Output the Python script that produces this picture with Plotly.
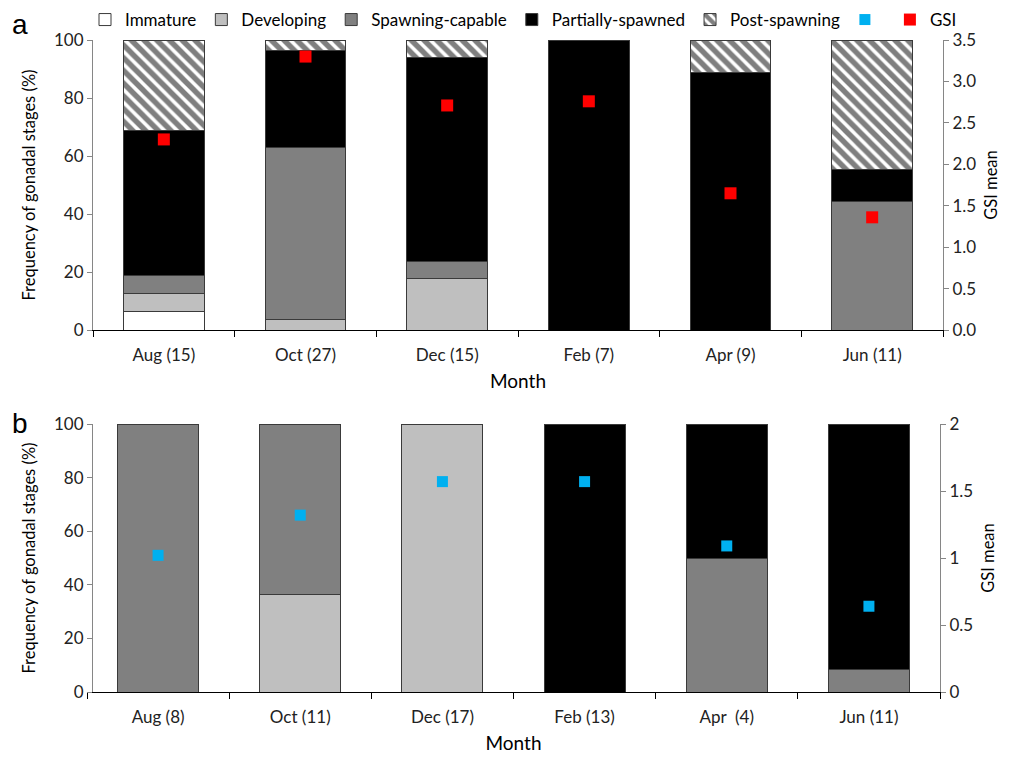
import plotly.graph_objects as go

# ---- data ----
months_a = ["Aug (15)", "Oct (27)", "Dec (15)", "Feb (7)", "Apr (9)", "Jun (11)"]
immature_a = [6.25, 0, 0, 0, 0, 0]
developing_a = [6.25, 3.7, 17.6, 0, 0, 0]
spawning_a = [6.25, 59.3, 5.9, 0, 0, 44.4]
partial_a = [50.0, 33.3, 70.6, 100, 88.9, 11.1]
post_a = [31.25, 3.7, 5.9, 0, 11.1, 44.5]
gsi_a = [2.30, 3.30, 2.71, 2.76, 1.65, 1.36]

months_b = ["Aug (8)", "Oct (11)", "Dec (17)", "Feb (13)", "Apr \u00a0(4)", "Jun (11)"]
developing_b = [0, 36.4, 100, 0, 0, 0]
spawning_b = [100, 63.6, 0, 0, 50, 8.3]
partial_b = [0, 0, 0, 100, 50, 91.7]
gsi_b = [1.02, 1.32, 1.57, 1.57, 1.09, 0.64]

FONT = "Lato"
OFF = 8  # page body margin
W, H = 1011 - OFF, 757 - OFF
OUTLINE = dict(color="#3a3a3a", width=1)

fig = go.Figure()

def bar(x, y, name, color, xa, ya, showlegend, pattern=None):
    m = dict(color=color, line=OUTLINE)
    if pattern:
        m["pattern"] = pattern
    fig.add_trace(go.Bar(x=x, y=y, name=name, marker=m, xaxis=xa, yaxis=ya,
                         showlegend=showlegend, legendgroup=name))

hatch = dict(shape="\\", fgcolor="black", bgcolor="white", size=9, solidity=0.6)

# panel a
bar(months_a, immature_a, "Immature", "white", "x", "y", True)
bar(months_a, developing_a, "Developing", "#bfbfbf", "x", "y", True)
bar(months_a, spawning_a, "Spawning-capable", "#808080", "x", "y", True)
bar(months_a, partial_a, "Partially-spawned", "black", "x", "y", True)
bar(months_a, post_a, "Post-spawning", "white", "x", "y", True, hatch)

# panel b
bar(months_b, developing_b, "Developing", "#bfbfbf", "x2", "y3", False)
bar(months_b, spawning_b, "Spawning-capable", "#808080", "x2", "y3", False)
bar(months_b, partial_b, "Partially-spawned", "black", "x2", "y3", False)

fig.add_trace(go.Scatter(x=months_b, y=gsi_b, mode="markers", name="",
                         marker=dict(symbol="square", size=11, color="#00b0f0"),
                         xaxis="x2", yaxis="y4", showlegend=True))
fig.add_trace(go.Scatter(x=months_a, y=gsi_a, mode="markers", name="GSI",
                         marker=dict(symbol="square", size=12, color="#ff0000"),
                         xaxis="x", yaxis="y2", showlegend=True))

def px_x(v):
    return (v - OFF) / W

def px_y(v):
    return 1 - (v - OFF) / H

tickfont = dict(family=FONT, size=17, color="#222")
common_x = dict(type="category", showline=True, linecolor="black", linewidth=1,
                ticks="outside", tickson="boundaries", ticklen=6, tickcolor="black",
                tickfont=tickfont, showgrid=False, zeroline=False, automargin=False,
                ticklabelstandoff=10,
                title=dict(text="Month", font=dict(family=FONT, size=19, color="black"), standoff=10))
common_y = dict(showline=True, linecolor="#868686", linewidth=1, ticks="outside",
                ticklen=5, tickcolor="#868686", tickfont=tickfont, showgrid=False,
                zeroline=False, automargin=False)
ytitle_font = dict(family=FONT, size=16.5, color="black")

fig.update_layout(
    width=W, height=H,
    margin=dict(l=0, r=0, t=0, b=0, autoexpand=False),
    paper_bgcolor="white", plot_bgcolor="white",
    barmode="stack", bargap=0.43,
    font=dict(family=FONT, color="black"),
    xaxis=dict(domain=[px_x(93), px_x(943)], anchor="y", **common_x),
    yaxis=dict(domain=[px_y(330), px_y(40)], range=[0, 100], dtick=20,
               title=dict(text="Frequency of gonadal stages (%)", font=ytitle_font, standoff=14),
               **common_y),
    yaxis2=dict(overlaying="y", anchor="x", side="right", range=[0, 3.5], dtick=0.5,
                tickformat=".1f",
                title=dict(text="GSI mean", font=ytitle_font, standoff=10), **common_y),
    xaxis2=dict(domain=[px_x(87), px_x(940)], anchor="y3", **common_x),
    yaxis3=dict(domain=[px_y(692), px_y(424)], range=[0, 100], dtick=20,
                title=dict(text="Frequency of gonadal stages (%)", font=ytitle_font, standoff=14),
                **common_y),
    yaxis4=dict(overlaying="y3", anchor="x2", side="right", range=[0, 2], dtick=0.5,
                title=dict(text="GSI mean", font=ytitle_font, standoff=10), **common_y),
    legend=dict(orientation="h", x=px_x(85), y=px_y(2), xanchor="left", yanchor="top",
                bgcolor="rgba(0,0,0,0)",
                font=dict(family=FONT, size=17, color="black"), traceorder="normal",
                itemwidth=30, tracegroupgap=0),
    annotations=[
        dict(text="a", x=px_x(10), y=px_y(24), xref="paper", yref="paper", showarrow=False,
             xanchor="left", yanchor="middle", font=dict(family="Liberation Sans", size=28)),
        dict(text="b", x=px_x(10), y=px_y(423), xref="paper", yref="paper", showarrow=False,
             xanchor="left", yanchor="middle", font=dict(family="Liberation Sans", size=28)),
    ],
)

fig.write_html("out.html")
